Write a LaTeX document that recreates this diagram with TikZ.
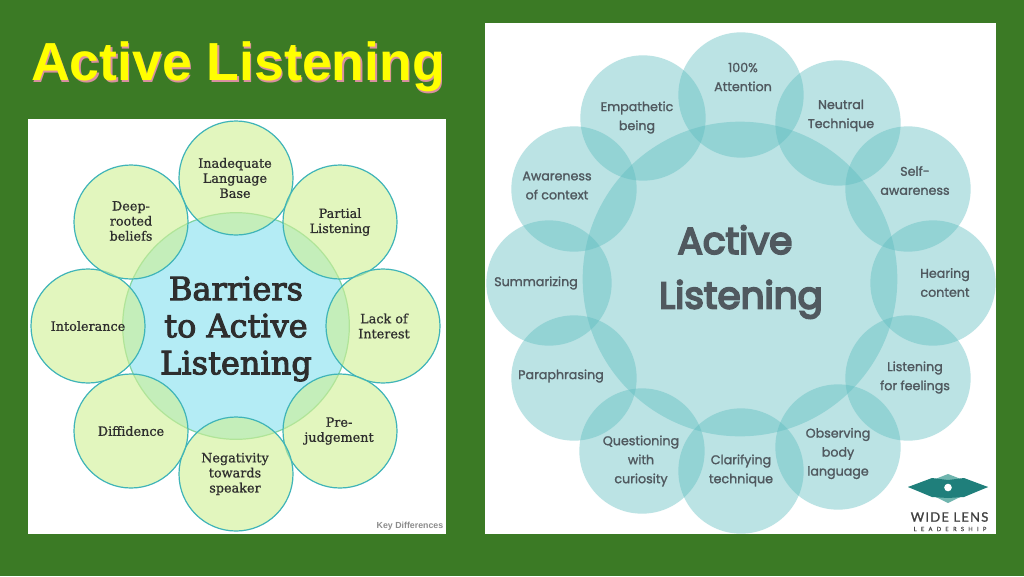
\documentclass[tikz,border=0pt]{standalone}
\usepackage{fontspec}
\setmainfont{Liberation Sans}
\newfontfamily\slabfont{DejaVu Serif}[FakeBold=0.8]
\newfontfamily\slabheavy{DejaVu Serif}[FakeBold=3]
\newfontfamily\geofont{Poppins}[FakeBold=1.5]
\newfontfamily\geoheavy{Poppins}[FakeBold=5]
\newfontfamily\logofont{Lato}[LetterSpace=9,FakeBold=1]
\newfontfamily\logosmall{Lato}[LetterSpace=75,FakeBold=1]
\definecolor{bggreen}{HTML}{3B7A25}
\definecolor{titleyellow}{HTML}{FFFF00}
\definecolor{titleshadow}{HTML}{D98FA0}
\definecolor{limefill}{HTML}{CFF093}
\definecolor{skyfill}{HTML}{B4ECF5}
\definecolor{ringteal}{HTML}{3FB4B8}
\definecolor{ringgreen}{HTML}{82D4A0}
\definecolor{tealfill}{HTML}{5EBDC0}
\definecolor{slabink}{HTML}{2E2E2E}
\definecolor{geoink}{HTML}{50595F}
\definecolor{logodark}{HTML}{1F7F7B}
\definecolor{logolight}{HTML}{6FB5AE}
\tikzset{
  px/.style={x=0.75pt,y=-0.75pt},
  panel/.style={fill=white,draw=none},
  bigblue/.style={circle,inner sep=0pt,minimum size=170pt,fill=skyfill,draw=ringgreen,line width=0.9pt},
  limecirc/.style={circle,inner sep=0pt,minimum size=85.5pt,fill=limefill,fill opacity=0.6,draw=ringteal,line width=0.9pt},
  tealcirc/.style={circle,inner sep=0pt,minimum size=94pt,fill=tealfill,fill opacity=0.42,draw=none},
  tealbig/.style={circle,inner sep=0pt,minimum size=236pt,fill=tealfill,fill opacity=0.42,draw=none},
  slabtxt/.style={align=center,text=slabink,font=\slabfont\fontsize{9.6}{11.3}\selectfont,inner sep=0pt},
  slabbig/.style={align=center,text=slabink,font=\slabheavy\fontsize{24}{27.8}\selectfont,inner sep=0pt},
  geotxt/.style={align=center,text=geoink,font=\geofont\fontsize{9.5}{14.25}\selectfont,inner sep=0pt},
  geobig/.style={align=center,text=geoink,font=\geoheavy\fontsize{28}{41}\selectfont,inner sep=0pt},
}
\begin{document}
\begin{tikzpicture}[px]
\useasboundingbox (0,0) rectangle (1024,576);
\fill[bggreen] (0,0) rectangle (1024,576);
\node[inner sep=0pt,text=titleshadow,font=\bfseries\fontsize{40.2}{44}\selectfont] (titleshade) at (239.5,68.5) {Active Listening};
\node[inner sep=0pt,text=titleyellow,font=\bfseries\fontsize{40.2}{44}\selectfont] (title) at (238,67) {Active Listening};
\fill[panel] (28,119) rectangle (446,534);
\fill[panel] (485,23) rectangle (996,534);
% left diagram
\node[bigblue] (barriers) at (236,326) {};
\node[limecirc] (b1) at (236,178) {};
\node[limecirc] (b2) at (340,222) {};
\node[limecirc] (b3) at (383,326) {};
\node[limecirc] (b4) at (340,431) {};
\node[limecirc] (b5) at (236,474) {};
\node[limecirc] (b6) at (131,431) {};
\node[limecirc] (b7) at (88,326) {};
\node[limecirc] (b8) at (131,222) {};
\node[slabbig] (barrierst) at (236,329) {Barriers\\to Active\\Listening};
\node[slabtxt] (b1t) at (235,178) {Inadequate\\Language\\Base};
\node[slabtxt] (b2t) at (340,222) {Partial\\Listening};
\node[slabtxt] (b3t) at (384,326) {Lack of\\Interest};
\node[slabtxt] (b4t) at (339,431) {Pre-\\judgement};
\node[slabtxt] (b5t) at (235,474) {Negativity\\towards\\speaker};
\node[slabtxt] (b6t) at (131,431) {Diffidence};
\node[slabtxt] (b7t) at (88,326) {Intolerance};
\node[slabtxt] (b8t) at (131,221) {Deep-\\rooted\\beliefs};
\node[inner sep=0pt,text=black!45,font=\bfseries\fontsize{6.6}{8}\selectfont] (kd) at (410,526) {Key Differences};
% right diagram
\node[tealbig] (active) at (740,279) {};
\node[tealcirc] (a1) at (741,95) {};
\node[tealcirc] (a2) at (838,123) {};
\node[tealcirc] (a3) at (908,189) {};
\node[tealcirc] (a4) at (933,283) {};
\node[tealcirc] (a5) at (908,378) {};
\node[tealcirc] (a6) at (838,447) {};
\node[tealcirc] (a7) at (741,471) {};
\node[tealcirc] (a8) at (642,451) {};
\node[tealcirc] (a9) at (574,378) {};
\node[tealcirc] (a10) at (549,283) {};
\node[tealcirc] (a11) at (574,189) {};
\node[tealcirc] (a12) at (643,118) {};
\node[geobig] (activet) at (741,272) {Active\hspace*{9pt}\\Listening};
\node[geotxt] (a1t) at (743,77) {100\%\\Attention};
\node[geotxt] (a2t) at (841,115.5) {Neutral\\Technique};
\node[geotxt] (a3t) at (915,180.5) {Self-\\awareness};
\node[geotxt] (a4t) at (945,282.5) {Hearing\\content};
\node[geotxt] (a5t) at (915,377.5) {Listening\\for feelings};
\node[geotxt] (a6t) at (838,453.5) {Observing\\body\\language};
\node[geotxt] (a7t) at (741,470.5) {Clarifying\\technique};
\node[geotxt] (a8t) at (641,461) {Questioning\\with\\curiosity};
\node[geotxt] (a9t) at (561,376) {Paraphrasing};
\node[geotxt] (a10t) at (536,283) {Summarizing};
\node[geotxt] (a11t) at (557,185.5) {Awareness\\of context};
\node[geotxt] (a12t) at (637,117.5) {Empathetic\\being};
% logo
\fill[logolight] (908,487) -- (930,481) -- (948,474) -- (966,481) -- (988,487) -- (966,494) -- (948,503) -- (930,494) -- cycle;
\fill[logodark] (908,487) -- (932,478) -- (948,480) -- (964,478) -- (988,487) -- (964,497) -- (948,498) -- (932,497) -- cycle;
\fill[white] (948,487.5) circle (3.8);
\node[inner sep=0pt,text=black!75,font=\logofont\fontsize{9.8}{10}\selectfont] (logo1) at (949.5,517) {WIDE LENS};
\node[inner sep=0pt,text=black!70,font=\logosmall\fontsize{4.3}{5}\selectfont] (logo2) at (950,529) {LEADERSHIP};
\end{tikzpicture}
\end{document}
